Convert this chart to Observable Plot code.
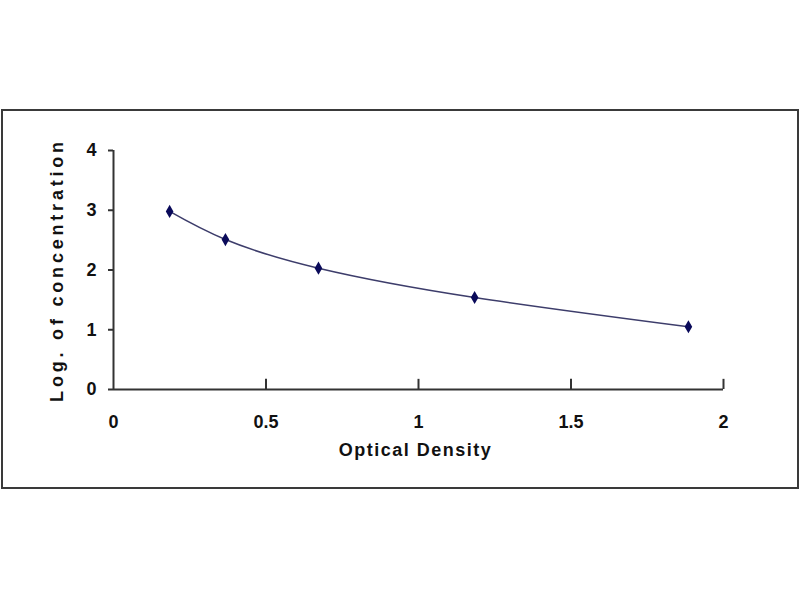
<!DOCTYPE html>
<html>
<head>
<meta charset="utf-8">
<script src="https://cdn.jsdelivr.net/npm/d3@7"></script>
<script src="https://cdn.jsdelivr.net/npm/@observablehq/plot@0.6"></script>
<style>
  body { margin: 0; background: #fff; }
  #vis {
    position: absolute;
    left: 1px;
    top: 109px;
    width: 794px;
    height: 376px;
    border: 2px solid #3a3a3a;
    background: #fff;
  }
  #vis svg { display: block; }
</style>
</head>
<body>
<div id="vis"></div>
<script>
// standard curve points
const od = [0.184, 0.367, 0.672, 1.184, 1.885]
const logConc = [2.98, 2.51, 2.03, 1.54, 1.05]

const xTicks = [0, 0.5, 1, 1.5, 2]
const yTicks = [0, 1, 2, 3, 4]

const data = od.map((d, i) => ({od: d, conc: logConc[i]}))

const font = '"Liberation Sans", Arial, sans-serif'

let chart = Plot.plot({
  width: 794,
  height: 376,
  marginLeft: 110,
  marginRight: 74,
  marginTop: 39,
  marginBottom: 98,
  x: {domain: [0, 2]},
  y: {domain: [0, 4]},
  marks: [
    Plot.axisX({ticks: xTicks, tickFormat: d => String(d), tickSize: 0, tickPadding: 26, label: null, fontSize: 18, fontWeight: 'bold', fill: '#111'}),
    Plot.axisY({ticks: yTicks, tickFormat: d => String(d), tickSize: 5, tickPadding: 12, label: null, fontSize: 18, fontWeight: 'bold', fill: '#111', stroke: '#333', strokeWidth: 2}),
    Plot.ruleX(xTicks.slice(1), {y1: 0, y2: 0.17, stroke: '#333', strokeWidth: 2}),
    Plot.ruleY([0], {x1: 0, x2: 2, stroke: '#333', strokeWidth: 2}),
    Plot.ruleX([0], {y1: 0, y2: 4, stroke: '#333', strokeWidth: 2}),
    Plot.line(data, {x: 'od', y: 'conc', curve: 'natural', stroke: '#3d3d6b', strokeWidth: 1.5}),
    Plot.dot(data, {x: 'od', y: 'conc', symbol: 'diamond', r: 4, fill: '#0a0a5a'}),
    Plot.text(['Optical Density'], {frameAnchor: 'bottom', dy: 66, dx: -3, fontSize: 18, fontWeight: 'bold', fill: '#111'}),
    Plot.text(['Log. of concentration'], {frameAnchor: 'left', textAnchor: 'middle', rotate: -90, dx: -56, fontSize: 18, fontWeight: 'bold', fill: '#111'}),
  ],
  style: {
    fontFamily: font,
    background: '#fff',
    color: '#111',
  },
})

d3.select(chart).selectAll('text')
  .filter(function () { return this.textContent === 'Log. of concentration' })
  .style('letter-spacing', '3.8px')
d3.select(chart).selectAll('text')
  .filter(function () { return this.textContent === 'Optical Density' })
  .style('letter-spacing', '1.5px')

d3.select('#vis').append(() => chart)
</script>
</body>
</html>
